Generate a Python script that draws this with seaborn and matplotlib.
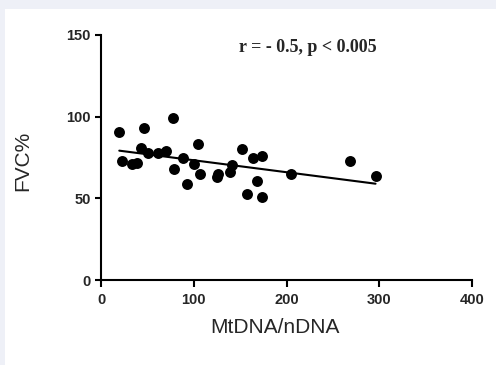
import numpy as np
import pandas as pd
import matplotlib
matplotlib.use("Agg")
import matplotlib.pyplot as plt
from matplotlib.patches import Rectangle
import seaborn as sns

mtdna = [19.7, 22.3, 33, 38.5, 42.8, 46.7, 51, 61.8, 70, 77.3, 78.7, 88, 93, 100.3,
         104.2, 106.7, 124.7, 126.5, 139, 141, 152.3, 157, 164.2, 167.8, 173.9, 173.6,
         204.9, 268.5, 296]
fvc = [90.8, 72.9, 71, 71.8, 80.6, 92.9, 78, 77.6, 79, 99, 68, 74.7, 58.8, 71,
       83, 65, 62.9, 65, 66.3, 70.4, 80, 52.7, 74.5, 60.8, 76.1, 50.6,
       65, 72.9, 63.7]
xticks = [0, 100, 200, 300, 400]
yticks = [0, 50, 100, 150]

df = pd.DataFrame({"MtDNA/nDNA": mtdna, "FVC%": fvc})

sns.set_style("ticks")
plt.rcParams["font.family"] = ["Liberation Sans", "DejaVu Sans"]

fig = plt.figure(figsize=(4.96, 3.65), dpi=100)
fig.patch.set_facecolor("#eef0f7")
fig.patches.append(Rectangle((5 / 496, 0), 1, 1 - 9 / 365, transform=fig.transFigure,
                             facecolor="white", edgecolor="none", zorder=-1))
ax = fig.add_axes([101 / 496, 85 / 365, 371 / 496, 245 / 365])
ax.set_facecolor("white")

sns.regplot(x="MtDNA/nDNA", y="FVC%", data=df, ci=None, ax=ax, truncate=True,
            scatter_kws={"s": 62, "color": "black", "alpha": 1, "linewidths": 0},
            line_kws={"color": "black", "lw": 1.5})

ax.set_xlim(0, 400)
ax.set_ylim(0, 150)
ax.set_xticks(xticks)
ax.set_yticks(yticks)
ax.set_xticklabels([str(t) for t in xticks], fontsize=10.5, fontweight="bold")
ax.set_yticklabels([str(t) for t in yticks], fontsize=10.5, fontweight="bold")
ax.tick_params(axis="x", direction="out", length=5, width=1.5, color="black", pad=4.5)
ax.tick_params(axis="y", direction="out", length=4.5, width=1.5, color="black", pad=3)
for s in ["left", "bottom"]:
    ax.spines[s].set_linewidth(1.5)
    ax.spines[s].set_color("black")
sns.despine(ax=ax)
ax.set_xlabel("MtDNA/nDNA", fontsize=15)
ax.set_ylabel("FVC%", fontsize=15)
ax.xaxis.set_label_coords(0.469, -0.155)
ax.yaxis.set_label_coords(-0.185, 0.486)

ax.text(0.558, 0.947, "r = - 0.5, p < 0.005", transform=ax.transAxes, ha="center", va="center",
        fontsize=13, fontweight="bold", family=["Liberation Serif", "DejaVu Serif"])

fig.savefig("out.png", dpi=100, facecolor=fig.get_facecolor())
